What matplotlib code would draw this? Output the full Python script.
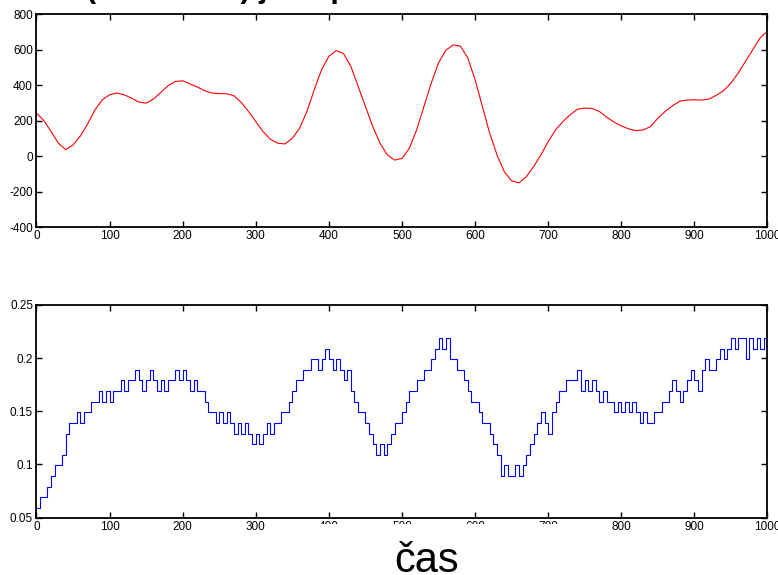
import numpy as np
import matplotlib
matplotlib.use("Agg")
import matplotlib.pyplot as plt
from matplotlib.patches import Rectangle

plt.rcParams['font.family'] = ['Liberation Sans', 'DejaVu Sans']
plt.rcParams['axes.unicode_minus'] = False

# Horní graf: červený průběh, hodnoty odečtené po 10 vzorcích
t_red = np.arange(0, 1001, 10)
red_values = [
    241, 200, 138, 72, 36, 62, 113, 181, 260, 317,
    345, 355, 345, 326, 304, 298, 321, 358, 396, 420,
    424, 406, 389, 368, 355, 351, 351, 340, 302, 251,
    194, 138, 94, 72, 68, 100, 157, 251, 374, 487,
    562, 594, 577, 506, 392, 279, 166, 72, 6, -23,
    -13, 43, 147, 279, 411, 525, 596, 626, 619, 553,
    430, 279, 128, 6, -89, -140, -151, -117, -60, 6,
    81, 147, 194, 232, 264, 270, 268, 251, 219, 191,
    170, 153, 143, 147, 166, 213, 251, 283, 309, 315,
    317, 315, 321, 342, 368, 411, 468, 534, 600, 666,
    704,
]

# Dolní graf: kvantované hladiny (v setinách) po 5 vzorcích
t_blue = np.arange(0, 1001, 5)
blue_levels = [
    6, 7, 7, 8, 9, 10, 10, 11, 13, 14,
    14, 15, 14, 15, 15, 16, 16, 17, 16, 17,
    16, 17, 17, 18, 17, 18, 18, 19, 18, 17,
    18, 19, 18, 17, 18, 17, 18, 18, 19, 18,
    19, 18, 17, 18, 17, 17, 16, 15, 15, 14,
    15, 14, 15, 14, 13, 14, 13, 14, 13, 12,
    13, 12, 13, 14, 13, 14, 14, 15, 15, 16,
    17, 18, 18, 19, 19, 20, 20, 19, 20, 21,
    20, 19, 20, 19, 18, 19, 17, 16, 15, 15,
    14, 13, 12, 11, 12, 11, 12, 13, 14, 14,
    15, 16, 17, 17, 18, 18, 19, 19, 20, 21,
    22, 21, 22, 20, 20, 19, 19, 18, 17, 16,
    16, 15, 14, 14, 13, 12, 11, 9, 10, 9,
    9, 10, 9, 10, 11, 12, 13, 14, 15, 14,
    13, 15, 16, 17, 17, 18, 18, 18, 19, 17,
    18, 17, 18, 17, 16, 17, 16, 16, 15, 16,
    15, 16, 15, 16, 15, 14, 15, 14, 14, 15,
    15, 16, 16, 17, 18, 17, 16, 17, 18, 19,
    18, 17, 19, 20, 19, 19, 20, 21, 20, 21,
    22, 21, 22, 22, 20, 22, 21, 22, 21, 22,
    22,
]
blue_values = np.array(blue_levels) / 100 - 0.001

x_ticks = [0, 100, 200, 300, 400, 500, 600, 700, 800, 900, 1000]
red_yticks = [-400, -200, 0, 200, 400, 600, 800]
blue_yticks = [0.05, 0.1, 0.15, 0.2, 0.25]
blue_ylabels = ['0.05', '0.1', '0.15', '0.2', '0.25']

fig = plt.figure(figsize=(7.78, 5.75), dpi=100)
ax1 = fig.add_axes([0.0469, 0.6052, 0.9396, 0.3704])
ax2 = fig.add_axes([0.0469, 0.1000, 0.9396, 0.3696])

ax1.plot(t_red, red_values, color='#ff0000', linewidth=0.8)
ax1.set_xlim(0, 1000)
ax1.set_ylim(-400, 800)
ax1.set_yticks(red_yticks)

ax2.plot(t_blue, blue_values, color='#0000ff', linewidth=0.8, drawstyle='steps-post')
ax2.set_xlim(0, 1000)
ax2.set_ylim(0.05, 0.25)
ax2.set_yticks(blue_yticks)
ax2.set_yticklabels(blue_ylabels)

# styl os jako v MATLABu
for ax in (ax1, ax2):
    ax.set_xticks(x_ticks)
    ax.tick_params(direction='in', top=True, right=True, length=4, width=1,
                   labelsize=8.5, pad=2.5, colors='black')
    for sp in ax.spines.values():
        sp.set_linewidth(1.3)

# oříznutý nadpis nahoře
fig.text(86 / 778, 1.005, '(naměřená) jeho průběh', fontsize=22,
         fontweight='bold', ha='left', va='baseline')

# bílá plocha překrývající část popisků dole
fig.patches.append(Rectangle((315 / 778, 0), 257 / 778, 1 - 523.5 / 575,
                             transform=fig.transFigure, facecolor='white',
                             edgecolor='none', zorder=5))
fig.text(427 / 778, 3 / 575, 'čas', fontsize=30, ha='center', va='baseline', zorder=6)

plt.savefig('out.png', dpi=100)
